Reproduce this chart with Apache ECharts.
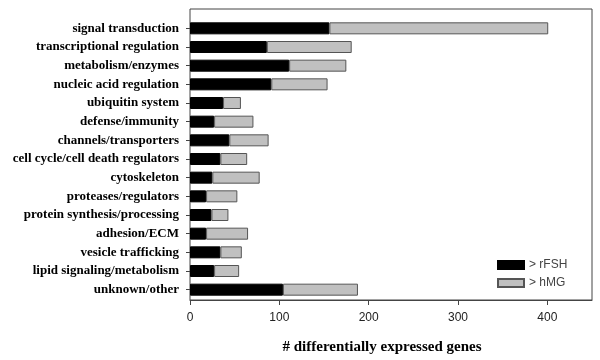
<!DOCTYPE html>
<html>
<head>
    <meta charset="utf-8">
    <script type="text/javascript" src="https://cdn.jsdelivr.net/npm/echarts@6/dist/echarts.min.js"></script>
    <title>differentially expressed genes</title>
</head>
<body style="margin:0">
    <div id="container" style="width:600px;height:360px;"></div>
    <script type="text/javascript">
    // categories, top to bottom
    var categories = [
        'signal transduction', 'transcriptional regulation', 'metabolism/enzymes',
        'nucleic acid regulation', 'ubiquitin system', 'defense/immunity',
        'channels/transporters', 'cell cycle/cell death regulators', 'cytoskeleton',
        'proteases/regulators', 'protein synthesis/processing', 'adhesion/ECM',
        'vesicle trafficking', 'lipid signaling/metabolism', 'unknown/other'
    ];
    // genes higher with rFSH
    var rFSH = [156, 86, 111, 91, 37, 27, 44, 34, 25, 18, 24, 18, 34, 27, 104];
    // genes higher with hMG (stacked on top)
    var hMG = [245, 95, 64, 63, 20, 44, 44, 30, 53, 35, 19, 47, 24, 28, 84];
    var xTicks = [0, 100, 200, 300, 400];

    var labelFont = { fontFamily: 'Liberation Serif', fontWeight: 'bold', fontSize: 13, color: '#000' };

    var myChart = echarts.init(document.getElementById('container'));

    var option = {
        animation: false,
        legend: {
            orient: 'vertical',
            left: 497,
            top: 259,
            padding: 0,
            itemWidth: 26,
            itemHeight: 8,
            itemGap: 6,
            icon: 'rect',
            textStyle: { fontFamily: 'Liberation Sans', fontSize: 12, color: '#444' },
            data: ['> rFSH', '> hMG']
        },
        grid: [
            // bars
            { left: 190, right: 8, top: 19, bottom: 61 },
            // frame and value axis
            { left: 190, right: 8, top: 9, bottom: 52, show: true, borderColor: '#444', borderWidth: 1, backgroundColor: 'transparent' }
        ],
        xAxis: [{
            gridIndex: 0,
            type: 'value',
            min: 0,
            max: 450,
            show: false
        }, {
            gridIndex: 1,
            type: 'value',
            min: 0,
            max: 450,
            axisLine: { show: true, lineStyle: { color: '#444' } },
            axisTick: { show: true, length: 5, customValues: xTicks, lineStyle: { color: '#444' } },
            axisLabel: {
                fontFamily: 'Liberation Sans', fontSize: 12, color: '#222', margin: 12,
                customValues: xTicks
            },
            splitLine: { show: false },
            name: '# differentially expressed genes',
            nameLocation: 'middle',
            nameGap: 40,
            nameTextStyle: { fontFamily: 'Liberation Serif', fontWeight: 'bold', fontSize: 15, color: '#000', padding: [0, 18, 0, 0] }
        }],
        yAxis: [{
            gridIndex: 0,
            type: 'category',
            inverse: true,
            data: categories,
            axisLine: { show: false },
            axisTick: { show: true, alignWithLabel: true, length: 4, lineStyle: { color: '#444' } },
            axisLabel: Object.assign({ margin: 11 }, labelFont)
        }, {
            gridIndex: 1,
            type: 'value',
            show: false
        }],
        series: [{
            name: '> rFSH',
            type: 'bar',
            stack: 'genes',
            xAxisIndex: 0,
            yAxisIndex: 0,
            barWidth: 12,
            itemStyle: { color: '#000', borderColor: '#000', borderWidth: 1 },
            data: rFSH
        }, {
            name: '> hMG',
            type: 'bar',
            stack: 'genes',
            xAxisIndex: 0,
            yAxisIndex: 0,
            barWidth: 12,
            itemStyle: { color: '#c0c0c0', borderColor: '#555', borderWidth: 1 },
            data: hMG
        }]
    };

    myChart.setOption(option);
    </script>
</body>
</html>
